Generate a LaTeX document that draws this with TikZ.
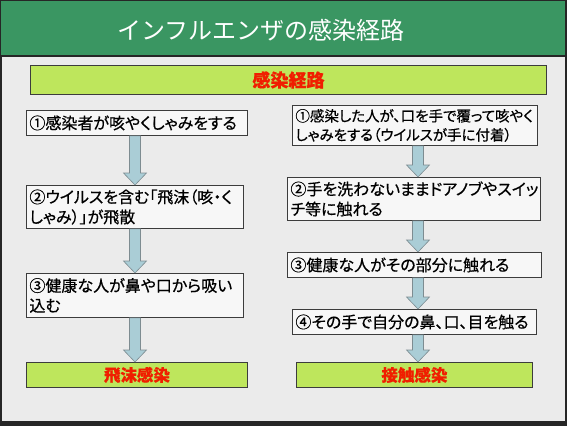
\documentclass[tikz,border=0pt]{standalone}
\usepackage{fontspec}
\usetikzlibrary{calc}
\newfontfamily\jpfont[RawFeature={+palt},FakeBold=0.6]{Noto Sans CJK JP}
\newfontfamily\jptitlefont{Noto Sans CJK JP}
\definecolor{titlegreen}{RGB}{58,150,98}
\definecolor{panelgray}{RGB}{235,235,235}
\definecolor{boxfill}{RGB}{247,247,247}
\definecolor{boxline}{RGB}{60,60,60}
\definecolor{limegreen}{RGB}{190,230,92}
\definecolor{routered}{RGB}{240,30,0}
\definecolor{arrowfill}{RGB}{170,205,214}
\definecolor{arrowline}{RGB}{125,140,145}

% fat arrow: column x, from box, to box
\newcommand\flowarrow[3]{%
  \path[blockarrow] let \p1=(#1), \p2=(#2.south), \p3=(#3.north) in
    (\x1-5.5pt,\y2) -- (\x1-5.5pt,\y3+12pt) -- (\x1-11.5pt,\y3+12pt)
    -- (\x1,\y3) -- (\x1+11.5pt,\y3+12pt) -- (\x1+5.5pt,\y3+12pt)
    -- (\x1+5.5pt,\y2) -- cycle;}

\begin{document}
\begin{tikzpicture}[x=1pt,y=-1pt,
  stepbox/.style={draw=boxline, fill=boxfill, line width=0.9pt,
    anchor=north west, inner xsep=3pt, inner ysep=0pt, align=left,
    font=\jpfont\fontsize{16}{20}\selectfont},
  resultbox/.style={draw=boxline, fill=limegreen, line width=0.9pt,
    anchor=north west, inner sep=0pt, text=routered,
    font=\jpfont\bfseries\fontsize{16.5}{20}\selectfont},
  blockarrow/.style={fill=arrowfill, draw=arrowline, line width=0.6pt}]
  \useasboundingbox (0,0) rectangle (567,426);
  \fill[black!85] (0,0) rectangle (567,426);
  \fill[titlegreen] (1,1) rectangle (565,55);
  \fill[panelgray] (2,57) rectangle (565,421);

  \node[text=white, font=\jptitlefont\fontsize{24}{28}\selectfont]
    (title) at (261,30) {インフルエンザの感染経路};
  \node[resultbox, minimum width=516pt, minimum height=29pt,
    font=\jpfont\bfseries\fontsize{18}{22}\selectfont]
    (route) at (30,65) {感染経路};

  \coordinate (lcol) at (135,0);
  \coordinate (rcol) at (418,0);

  % droplet route
  \node[stepbox, text width=215pt, minimum height=25pt] (drop1) at (26,110)
    {①感染者が咳やくしゃみをする};
  \node[stepbox, text width=211pt, minimum height=43pt] (drop2) at (26,185)
    {②ウイルスを含む「飛沫（咳・く\\しゃみ）」が飛散};
  \node[stepbox, text width=211pt, minimum height=44pt] (drop3) at (26,273)
    {③健康な人が鼻や口から吸い\\込む};
  \node[resultbox, minimum width=221pt, minimum height=25pt] (dropend) at (26,362)
    {飛沫感染};

  % contact route
  \node[stepbox, text width=239pt, minimum height=40pt,
    font=\jpfont\fontsize{14.5}{19}\selectfont] (touch1) at (292,105)
    {①感染した人が、口を手で覆って咳やく\\しゃみをする（ウイルスが手に付着）};
  \node[stepbox, text width=247pt, minimum height=43pt] (touch2) at (287,177)
    {②手を洗わないままドアノブやスイッ\\チ等に触れる};
  \node[stepbox, text width=248pt, minimum height=25pt] (touch3) at (287,252)
    {③健康な人がその部分に触れる};
  \node[stepbox, text width=238pt, minimum height=25pt] (touch4) at (292,309)
    {④その手で自分の鼻、口、目を触る};
  \node[resultbox, minimum width=236pt, minimum height=25pt] (touchend) at (296,362)
    {接触感染};

  \flowarrow{lcol}{drop1}{drop2}
  \flowarrow{lcol}{drop2}{drop3}
  \flowarrow{lcol}{drop3}{dropend}
  \flowarrow{rcol}{touch1}{touch2}
  \flowarrow{rcol}{touch2}{touch3}
  \flowarrow{rcol}{touch3}{touch4}
  \flowarrow{rcol}{touch4}{touchend}
\end{tikzpicture}
\end{document}
